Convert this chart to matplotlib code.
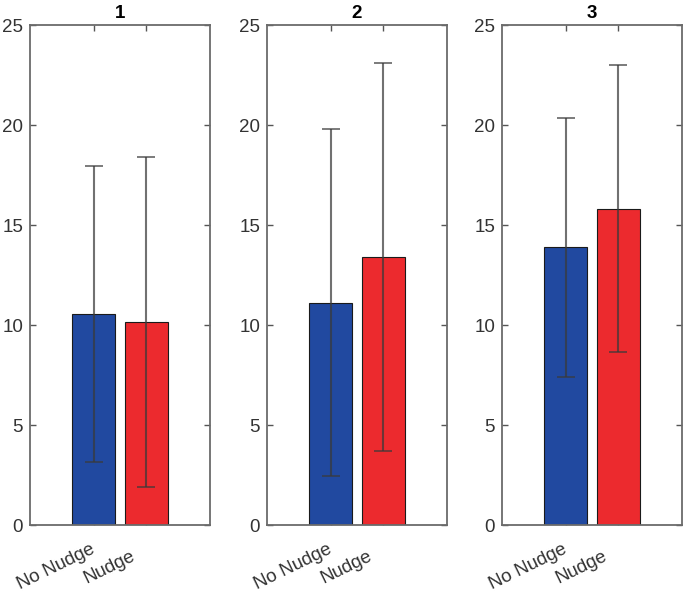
import numpy as np
import matplotlib.pyplot as plt
from matplotlib.transforms import ScaledTranslation

plt.rcParams['font.family'] = ['Liberation Sans', 'DejaVu Sans']

# Data
panels = ["1", "2", "3"]
groups = ["No Nudge", "Nudge"]
means = [[10.55, 10.17], [11.12, 13.38], [13.88, 15.82]]
errs = [[7.38, 8.25], [8.67, 9.70], [6.46, 7.17]]
colors = ["#2149A0", "#EC2A2E"]
yticks = [0, 5, 10, 15, 20, 25]

fig = plt.figure(figsize=(6.85, 5.94), dpi=100)
lefts = [30 / 685, 267 / 685, 502 / 685]
x = np.arange(1, len(groups) + 1)

for i, name in enumerate(panels):
    ax = fig.add_axes([lefts[i], 69 / 594, 180 / 685, 500 / 594])
    ax.bar(x, means[i], width=0.8, color=colors, edgecolor="#1a1a1a",
           linewidth=0.8, zorder=2)
    ax.errorbar(x, means[i], yerr=errs[i], fmt="none", ecolor="#3a3a3a",
                elinewidth=1.5, capsize=6.5, capthick=1.3, alpha=0.72, zorder=3)
    ax.set_xlim(-0.2, 3.2)
    ax.set_ylim(0, 25)
    ax.set_yticks(yticks)
    ax.set_xticks(x)
    ax.set_xticklabels(groups, rotation=26, ha="center", va="center",
                       rotation_mode="anchor")
    ax.set_title(name, fontsize=13.5, fontweight="bold", pad=5)
    ax.tick_params(axis="both", direction="in", top=True, right=True,
                   length=4, width=1, color="#555555", labelsize=13.5,
                   labelcolor="#333333")
    ax.tick_params(axis="x", pad=0)
    ax.tick_params(axis="y", pad=5)
    offset = ScaledTranslation(-0.37, -0.42, fig.dpi_scale_trans)
    for lab in ax.get_xticklabels():
        lab.set_transform(lab.get_transform() + offset)
    for sp in ax.spines.values():
        sp.set_color("#6b6b6b")
        sp.set_linewidth(1.3)

plt.savefig("out.png", dpi=100)
